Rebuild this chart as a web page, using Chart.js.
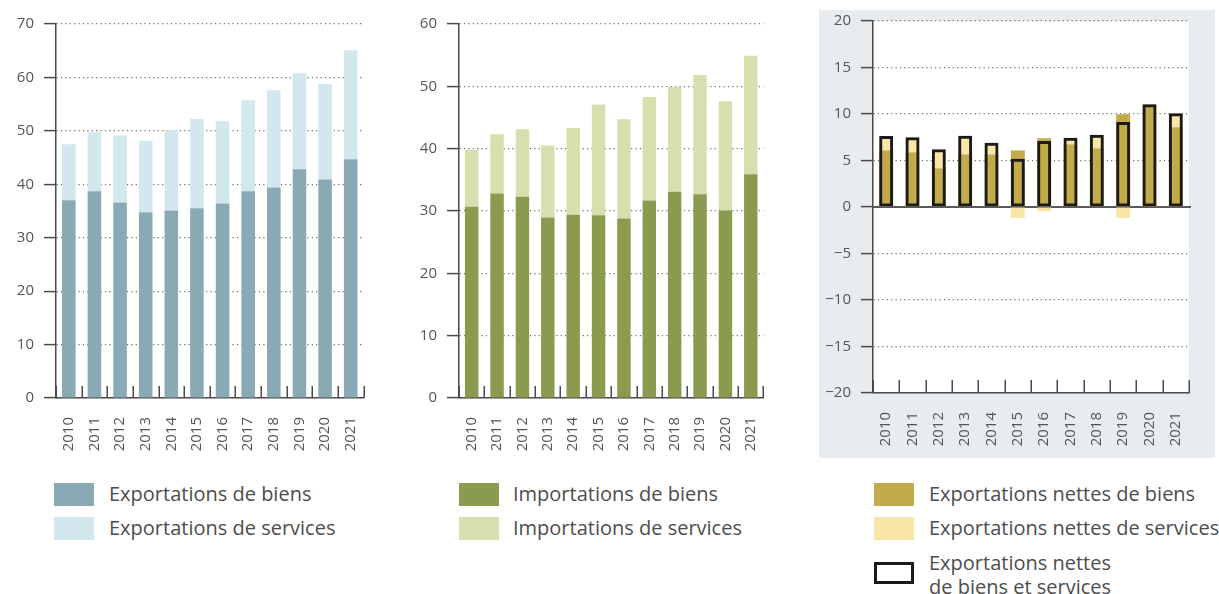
<!DOCTYPE html>
<html><head><meta charset="utf-8">
<script src="https://cdn.jsdelivr.net/npm/chart.js@4"></script>
<style>
body{margin:0;width:1219px;height:594px;position:relative;background:#fff;font-family:"Open Sans",sans-serif;overflow:hidden}
.cv{position:absolute}
.sw{position:absolute;width:40px;height:23px;box-sizing:border-box}
.lt{position:absolute;font-size:20px;line-height:24px;color:#4d4d4d;white-space:nowrap}
#panel{position:absolute;left:819px;top:10px;width:396px;height:448px;background:#e9ecef}
</style></head><body>
<div id="panel"></div>
<canvas id="c1" class="cv" width="380" height="460" style="left:0;top:0"></canvas>
<canvas id="c2" class="cv" width="380" height="460" style="left:400px;top:0"></canvas>
<canvas id="c3" class="cv" width="396" height="448" style="left:819px;top:10px"></canvas>

<div class="sw" style="left:54px;top:483px;background:#89a9b5"></div>
<div class="lt" style="left:109px;top:482px">Exportations de biens</div>
<div class="sw" style="left:54px;top:517px;background:#d3e7ee"></div>
<div class="lt" style="left:109px;top:516px">Exportations de services</div>

<div class="sw" style="left:459px;top:483px;background:#8a9a4e"></div>
<div class="lt" style="left:513px;top:482px">Importations de biens</div>
<div class="sw" style="left:459px;top:517px;background:#d6e0ae"></div>
<div class="lt" style="left:513px;top:516px">Importations de services</div>

<div class="sw" style="left:874px;top:483px;background:#c4ab4a"></div>
<div class="lt" style="left:929px;top:482px">Exportations nettes de biens</div>
<div class="sw" style="left:874px;top:517px;background:#f8e6a8"></div>
<div class="lt" style="left:929px;top:516px">Exportations nettes de services</div>
<div class="sw" style="left:874px;top:562px;height:22px;border:3px solid #1a1a1a;background:#fff"></div>
<div class="lt" style="left:929px;top:551px">Exportations nettes</div>
<div class="lt" style="left:929px;top:575px">de biens et services</div>

<script>
const years = ['2010','2011','2012','2013','2014','2015','2016','2017','2018','2019','2020','2021'];

const exportGoods    = [37.0, 38.7, 36.6, 34.75, 35.1, 35.5, 36.4, 38.7, 39.4, 42.8, 40.9, 44.7];
const exportServices = [10.5, 11.05, 12.6, 13.35, 15.0, 16.7, 15.4, 17.05, 18.2, 18.0, 17.85, 20.4];

const importGoods    = [30.7, 32.8, 32.3, 28.95, 29.4, 29.3, 28.8, 31.7, 33.1, 32.7, 30.1, 35.9];
const importServices = [9.1, 9.5, 10.8, 11.55, 13.9, 17.8, 15.9, 16.6, 16.8, 19.1, 17.5, 19.0];

const netGoods    = [6.09, 5.88, 4.16, 5.66, 5.66, 6.09, 7.38, 6.74, 6.31, 9.96, 11.0, 8.57];
const netServices = [1.5, 1.6, 2.0, 2.0, 1.25, -1.2, -0.45, 0.7, 1.45, -1.2, 0.05, 1.5];
const netTotal    = [7.63, 7.49, 6.2, 7.67, 6.92, 5.2, 7.1, 7.45, 7.78, 9.14, 11.04, 10.07];

const ticks1 = {min: 0, max: 70, step: 10};
const ticks2 = {min: 0, max: 60, step: 10};
const ticks3 = {min: -20, max: 20, step: 5};

Chart.defaults.font.family = '"Open Sans", sans-serif';
Chart.defaults.font.size = 15;
Chart.defaults.color = '#555';
Chart.defaults.animation = false;

const AXIS = '#4a4a4a';

const boundaryTicks = {
  id: 'boundaryTicks',
  afterDraw(chart, args, opts) {
    const xs = chart.scales.x, ctx = chart.ctx, y0 = chart.chartArea.bottom;
    const n = chart.data.labels.length;
    ctx.save();
    ctx.strokeStyle = AXIS; ctx.lineWidth = 1.5;
    for (let i = 0; i <= n; i++) {
      const px = Math.round(xs.getPixelForValue(i - 0.5)) + 0.25;
      ctx.beginPath(); ctx.moveTo(px, y0); ctx.lineTo(px, y0 - opts.len); ctx.stroke();
    }
    ctx.restore();
  }
};

const plotBg = {
  id: 'plotBg',
  beforeDraw(chart, args, opts) {
    if (!opts.color) return;
    const a = chart.chartArea, ctx = chart.ctx;
    ctx.save(); ctx.fillStyle = opts.color;
    ctx.fillRect(a.left, a.top, a.right - a.left, a.bottom - a.top);
    ctx.restore();
  },
  beforeDatasetsDraw(chart, args, opts) {
    if (!opts.zero) return;
    const a = chart.chartArea, ctx = chart.ctx;
    const y = chart.scales.y.getPixelForValue(0);
    ctx.save(); ctx.strokeStyle = '#5a5a5a'; ctx.lineWidth = 2;
    ctx.beginPath(); ctx.moveTo(a.left, y); ctx.lineTo(a.right + 2, y); ctx.stroke();
    ctx.restore();
  }
};

function makeOptions(t, yWidth, xHeight, padTop, padRight, tickLen, extra) {
  extra = extra || {};
  return {
    responsive: false,
    animation: false,
    layout: {padding: {top: padTop, right: padRight, left: 0, bottom: 0}},
    plugins: {
      legend: {display: false},
      tooltip: {enabled: false},
      boundaryTicks: {len: tickLen},
      plotBg: {color: extra.bg || null, zero: !!extra.zero}
    },
    scales: {
      x: {
        stacked: true,
        offset: true,
        grid: {display: false},
        border: {display: true, color: AXIS, width: 1.5},
        ticks: {minRotation: 90, maxRotation: 90, padding: 11, color: '#555', font: {size: 15}},
        afterFit(s) { s.height = xHeight; }
      },
      y: {
        stacked: true,
        min: t.min, max: t.max,
        grid: {
          color: (c) => (extra.zero && c.tick && c.tick.value === 0) ? 'rgba(0,0,0,0)' : '#6a6a6a',
          lineWidth: 1.2,
          tickColor: AXIS, tickWidth: 1.5, tickLength: 12,
          drawTicks: true
        },
        border: {display: true, color: AXIS, width: 1.5, dash: [1.2, 3.2]},
        ticks: {
          stepSize: t.step, padding: 10, color: '#555', font: {size: 15},
          callback: (v) => v < 0 ? '\u2212' + Math.abs(v) : String(v)
        },
        afterFit(s) { s.width = yWidth; s.paddingTop = 0; s.paddingBottom = 0; }
      }
    }
  };
}

const BP = 0.53;

new Chart(document.getElementById('c1'), {
  type: 'bar',
  data: {labels: years, datasets: [
    {data: exportGoods, backgroundColor: '#89a9b5', barPercentage: BP, categoryPercentage: 1},
    {data: exportServices, backgroundColor: '#d3e7ee', barPercentage: BP, categoryPercentage: 1}
  ]},
  options: makeOptions(ticks1, 56, 62, 24, 7, 12),
  plugins: [boundaryTicks, plotBg]
});

new Chart(document.getElementById('c2'), {
  type: 'bar',
  data: {labels: years, datasets: [
    {data: importGoods, backgroundColor: '#8a9a4e', barPercentage: BP, categoryPercentage: 1},
    {data: importServices, backgroundColor: '#d6e0ae', barPercentage: BP, categoryPercentage: 1}
  ]},
  options: makeOptions(ticks2, 59, 62, 24, 5, 12),
  plugins: [boundaryTicks, plotBg]
});

new Chart(document.getElementById('c3'), {
  type: 'bar',
  data: {labels: years, datasets: [
    {data: netTotal, stack: 'total', order: 0, grouped: false, backgroundColor: 'rgba(0,0,0,0)',
     borderColor: '#1a1a1a', borderWidth: 3, borderSkipped: false, barPercentage: BP, categoryPercentage: 1},
    {data: netGoods, stack: 'parts', order: 1, grouped: false, backgroundColor: '#c4ab4a', barPercentage: BP, categoryPercentage: 1},
    {data: netServices, stack: 'parts', order: 1, grouped: false, backgroundColor: '#f8e6a8', barPercentage: BP, categoryPercentage: 1}
  ]},
  options: makeOptions(ticks3, 54, 65, 11, 26, 13, {bg: '#ffffff', zero: true}),
  plugins: [boundaryTicks, plotBg]
});
</script>
</body></html>
